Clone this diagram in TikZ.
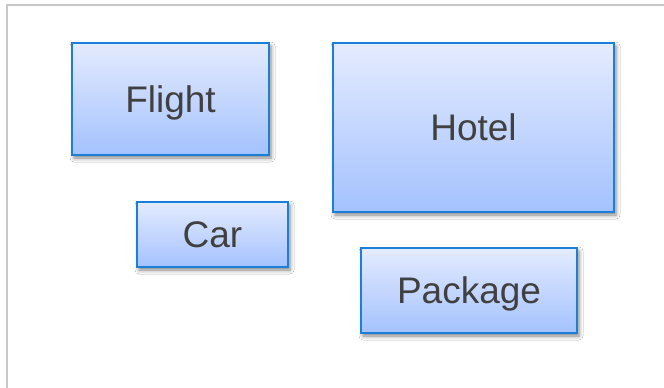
\documentclass[tikz,border=0pt]{standalone}
\usepackage{fontspec}
\setmainfont{Liberation Sans}
\usetikzlibrary{shadows.blur}
\definecolor{frame}{RGB}{200,200,200}
\definecolor{boxline}{RGB}{26,127,217}
\definecolor{boxtop}{RGB}{228,235,254}
\definecolor{boxbot}{RGB}{164,194,254}
\definecolor{txt}{RGB}{64,64,64}
\tikzset{
  card/.style={draw=boxline, line width=1.5pt, top color=boxtop, bottom color=boxbot,
    inner sep=0pt, outer sep=0pt, text=txt, font=\fontsize{37}{40}\selectfont,
    text depth=0pt,
    blur shadow={shadow xshift=2pt, shadow yshift=-3pt, shadow blur radius=4pt, shadow opacity=50}},
}
\begin{document}
\begin{tikzpicture}[x=1pt,y=-1pt]
\useasboundingbox (0,0) rectangle (664,388);
\fill[white] (0,0) rectangle (664,388);
\draw[frame, line width=1.5pt] (7,388) -- (7,5) -- (664,5);
\node[card, minimum width=197pt, minimum height=112pt] (flight) at (170.5,99) {Flight};
\node[card, minimum width=281pt, minimum height=169pt] (hotel) at (473.5,127.5) {Hotel};
\node[card, minimum width=151pt, minimum height=65pt] (car) at (212.5,234.5) {Car};
\node[card, minimum width=216pt, minimum height=85pt] (package) at (469,290.5) {Package};
\end{tikzpicture}
\end{document}
